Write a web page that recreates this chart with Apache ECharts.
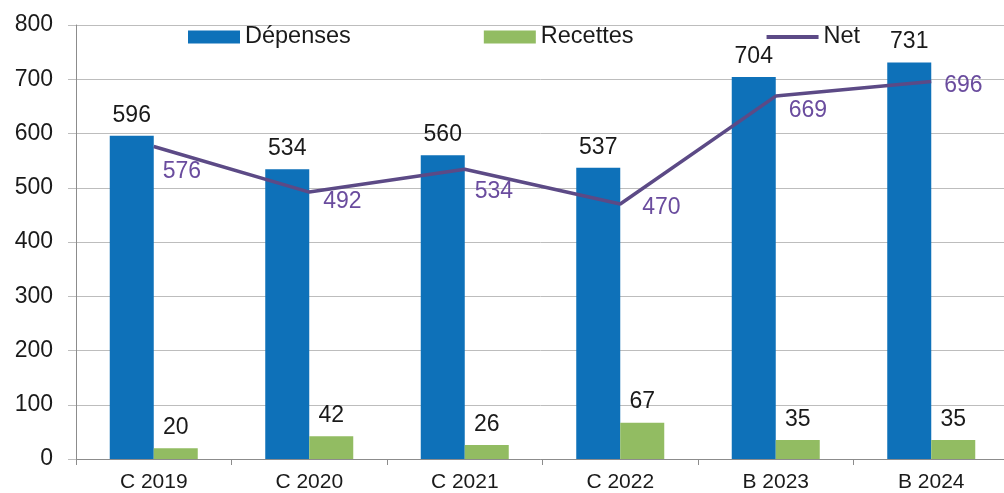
<!DOCTYPE html>
<html>
<head>
<meta charset="utf-8">
<script src="https://cdn.jsdelivr.net/npm/echarts@6/dist/echarts.min.js"></script>
<style>
  html, body { margin: 0; padding: 0; background: #fff; }
  #chart { width: 1004px; height: 493px; }
</style>
</head>
<body>
<div id="chart"></div>
<script>
// Budget series (en millions)
const categories = ['C 2019', 'C 2020', 'C 2021', 'C 2022', 'B 2023', 'B 2024'];
const depenses = [596, 534, 560, 537, 704, 731];
const recettes = [20, 42, 26, 67, 35, 35];
const net = [576, 492, 534, 470, 669, 696];
const yTicks = { min: 0, max: 800, interval: 100 };

// Hand-placed label nudges for the "Net" values, [dx, dy] in pixels
const netLabelNudge = [[9, 25], [14, 10], [10, 22], [22, 4], [13, 15], [13, 4]];

const FONT = '"Liberation Sans", Arial, sans-serif';
const chart = echarts.init(document.getElementById('chart'), null, { renderer: 'canvas' });

const netData = net.map((v, i) => ({
  value: v,
  label: { offset: netLabelNudge[i] }
}));

chart.setOption({
  animation: false,
  textStyle: { fontFamily: FONT },
  legend: {
    top: 20,
    left: 183,
    itemWidth: 52,
    itemHeight: 13,
    itemGap: 133,
    textStyle: { fontSize: 23.5, color: '#1a1a1a', fontFamily: FONT },
    data: [
      { name: 'Dépenses', icon: 'rect' },
      { name: 'Recettes', icon: 'rect' },
      { name: 'Net', icon: 'path://M0,4.5 L52,4.5 L52,8.5 L0,8.5 Z' }
    ]
  },
  grid: { left: 76, top: 25, width: 933, height: 434, outerBoundsMode: 'none', containLabel: false },
  xAxis: {
    type: 'category',
    data: categories,
    axisLine: { show: true, lineStyle: { color: '#8c8c8c', width: 1 } },
    axisTick: { show: true, length: 6, lineStyle: { color: '#8c8c8c' } },
    axisLabel: { fontSize: 21, color: '#1a1a1a', margin: 13, fontFamily: FONT }
  },
  yAxis: {
    type: 'value',
    min: yTicks.min,
    max: yTicks.max,
    interval: yTicks.interval,
    axisLine: { show: true, lineStyle: { color: '#8c8c8c' } },
    axisTick: { show: true, length: 8, lineStyle: { color: '#bdbdbd' } },
    axisLabel: { fontSize: 23, color: '#1a1a1a', margin: 23, fontFamily: FONT },
    splitLine: { lineStyle: { color: '#bdbdbd', width: 1 } }
  },
  series: [
    {
      name: 'Dépenses',
      type: 'bar',
      data: depenses,
      barWidth: 44,
      barGap: '0%',
      itemStyle: { color: '#0E71B9' },
      label: { show: true, position: 'top', distance: 9, fontSize: 23, color: '#1a1a1a', fontFamily: FONT }
    },
    {
      name: 'Recettes',
      type: 'bar',
      data: recettes,
      barWidth: 44,
      itemStyle: { color: '#92BC62' },
      label: { show: true, position: 'top', distance: 9, fontSize: 23, color: '#1a1a1a', fontFamily: FONT }
    },
    {
      name: 'Net',
      type: 'line',
      data: netData,
      symbol: 'circle',
      symbolSize: 0,
      showSymbol: true,
      lineStyle: { color: '#5C4A86', width: 3.5 },
      itemStyle: { color: '#5C4A86' },
      label: {
        show: true,
        position: 'right',
        distance: 0,
        fontSize: 23,
        color: '#6A4C9E',
        fontFamily: FONT
      },
      z: 5
    }
  ]
});
</script>
</body>
</html>
